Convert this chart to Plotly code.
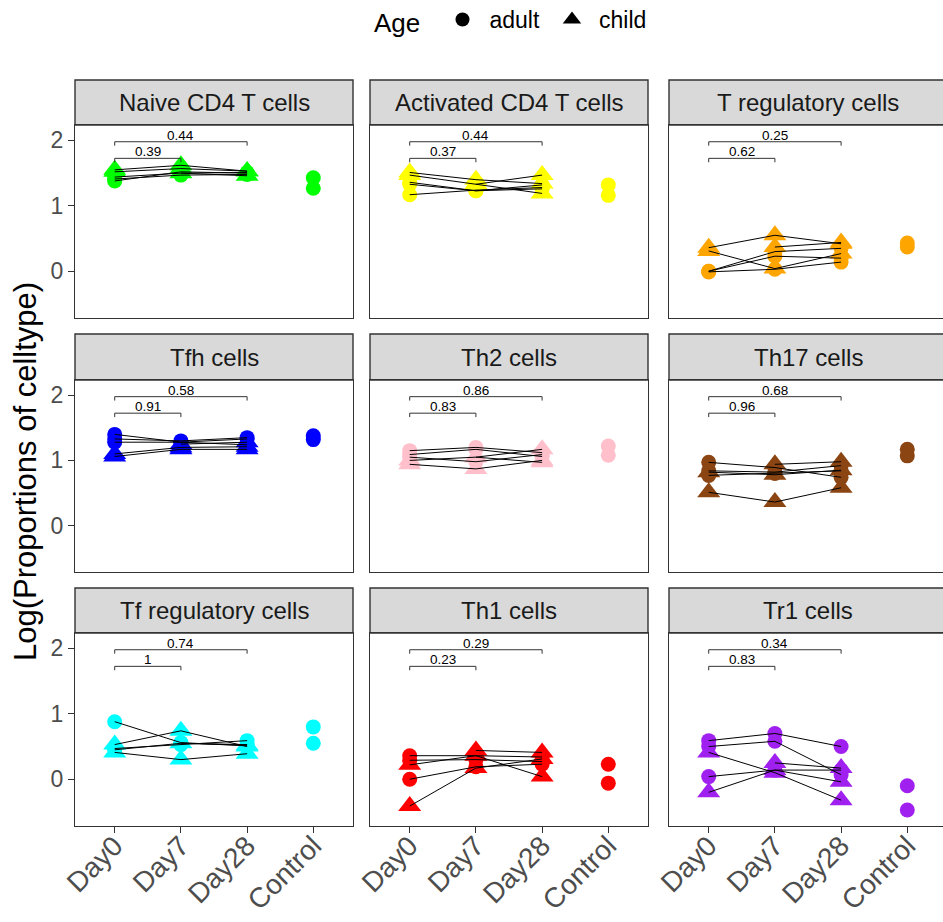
import plotly.graph_objects as go

W, H = 943, 922

days = ["Day0", "Day7", "Day28", "Control"]
cell_types = ["Naive CD4 T cells", "Activated CD4 T cells", "T regulatory cells",
              "Tfh cells", "Th2 cells", "Th17 cells",
              "Tf regulatory cells", "Th1 cells", "Tr1 cells"]
colors = ["#00FF00", "#FFFF00", "#FFA500", "#0000FF", "#FFC0CB", "#8B4513",
          "#00FFFF", "#FF0000", "#A020F0"]

subjects = ["A1", "A2", "A3", "C1", "C2", "C3"]
subject_age = ["adult", "adult", "adult", "child", "child", "child"]

# Log proportions per subject: [Day0, Day7, Day28]
naive_cd4 = [[1.44, 1.50, 1.51], [1.41, 1.47, 1.48], [1.38, 1.52, 1.50],
             [1.55, 1.62, 1.53], [1.52, 1.57, 1.53], [None, 1.50, 1.46]]
activated_cd4 = [[1.36, 1.23, 1.26], [1.17, 1.24, 1.28], [1.33, 1.23, 1.32],
                 [1.51, 1.40, 1.34], [1.47, 1.33, 1.19], [None, 1.33, 1.47]]
t_reg = [[0.00, 0.23, 0.20], [-0.01, 0.03, 0.14], [0.00, 0.30, 0.35],
         [0.36, 0.55, 0.42], [0.31, 0.04, 0.27], [None, 0.37, 0.44]]
tfh = [[1.40, 1.28, 1.33], [1.33, 1.30, 1.35], [1.28, 1.28, 1.24],
       [1.10, 1.20, 1.21], [1.06, 1.17, 1.17], [None, 1.25, 1.28]]
th2 = [[1.15, 1.20, 1.12], [1.09, 1.17, 1.06], [1.05, 0.98, 1.09],
       [1.00, 1.05, 1.17], [0.94, 0.87, 1.00], [None, 1.05, 0.97]]
th17 = [[0.97, 0.89, 0.74], [0.84, 0.82, 0.92], [0.77, 0.80, 0.84],
        [0.82, 0.78, 0.85], [0.51, 0.36, 0.58], [None, 0.94, 0.98]]
tf_reg = [[0.88, 0.56, 0.51], [0.47, 0.53, 0.59], [0.45, 0.55, 0.53],
          [0.53, 0.74, 0.50], [0.41, 0.30, 0.39], [None, 0.55, 0.52]]
th1 = [[0.36, 0.36, 0.34], [0.29, 0.30, 0.27], [0.00, 0.19, 0.23],
       [0.22, 0.36, 0.04], [-0.41, 0.17, 0.31], [None, 0.44, 0.41]]
tr1 = [[0.59, 0.70, 0.50], [0.50, 0.58, 0.07], [0.04, 0.14, 0.14],
       [0.41, 0.10, -0.32], [-0.20, 0.14, -0.04], [None, 0.25, 0.17]]
panel_values = [naive_cd4, activated_cd4, t_reg, tfh, th2, th17, tf_reg, th1, tr1]

# Control (adult) values
control_values = [[1.43, 1.27], [1.32, 1.16], [0.43, 0.37],
                  [1.38, 1.32], [1.22, 1.08], [1.17, 1.07],
                  [0.80, 0.55], [0.23, -0.06], [-0.10, -0.47]]

p_day7 = ["0.39", "0.37", "0.62", "0.91", "0.83", "0.96", "1", "0.23", "0.83"]
p_day28 = ["0.44", "0.44", "0.25", "0.58", "0.86", "0.68", "0.74", "0.29", "0.34"]

y_ticks = [0, 1, 2]

# ---------------- layout geometry (pixels) ----------------
col_px = [(75, 353), (370, 648), (669, 947)]
plot_rows_px = [(125, 318), (380, 572), (633, 826)]
strip_rows_px = [(80, 125), (334, 380), (588, 633)]
YRANGE = [-0.715, 2.236]
FONT = "Liberation Sans, Arial, Helvetica, sans-serif"
AX = "#333333"
TXT = "#4D4D4D"


def xp(px):
    return px / W


def yp(py):
    return 1 - py / H


fig = go.Figure()
layout = {}
shapes = []
annotations = []

for i, ct in enumerate(cell_types):
    r, c = divmod(i, 3)
    n = i + 1
    xa = "x" if n == 1 else f"x{n}"
    ya = "y" if n == 1 else f"y{n}"
    x0, x1 = col_px[c]
    y0, y1 = plot_rows_px[r]
    vis_x1 = min(x1, W)
    full_w = x1 - x0
    vis_w = vis_x1 - x0
    xr = [-0.6, -0.6 + 4.2 * vis_w / full_w]

    layout["xaxis" if n == 1 else f"xaxis{n}"] = dict(
        domain=[xp(x0), xp(vis_x1)], anchor=ya, type="category",
        categoryorder="array", categoryarray=days, range=xr,
        automargin=False, fixedrange=True,
        showline=True, linecolor=AX, linewidth=1.4, mirror=True,
        showgrid=False, zeroline=False,
        ticks="outside" if r == 2 else "", ticklen=6, tickwidth=1.4, tickcolor=AX,
        showticklabels=(r == 2), tickangle=-45, ticklabelstandoff=-15,
        tickfont=dict(family=FONT, size=28, color=TXT),
    )
    layout["yaxis" if n == 1 else f"yaxis{n}"] = dict(
        domain=[yp(y1), yp(y0)], anchor=xa, range=YRANGE,
        automargin=False, fixedrange=True,
        showline=True, linecolor=AX, linewidth=1.4, mirror=(c != 2),
        showgrid=False, zeroline=False,
        tickvals=y_ticks, ticktext=[str(t) for t in y_ticks],
        ticks="outside" if c == 0 else "", ticklen=6, tickwidth=1.4, tickcolor=AX,
        showticklabels=(c == 0),
        tickfont=dict(family=FONT, size=23, color=TXT),
    )

    # strip
    sy0, sy1 = strip_rows_px[r]
    shapes.append(dict(type="rect", xref="paper", yref="paper",
                       x0=xp(x0), x1=xp(x1), y0=yp(sy1), y1=yp(sy0),
                       fillcolor="#D9D9D9", line=dict(color=AX, width=1.4),
                       layer="below"))
    annotations.append(dict(text=ct, xref="paper", yref="paper",
                            x=xp((x0 + x1) / 2), y=yp((sy0 + sy1) / 2),
                            xanchor="center", yanchor="middle", showarrow=False,
                            font=dict(family=FONT, size=24, color="#1A1A1A")))

    col = colors[i]
    vals = panel_values[i]
    # points by age
    for age, sym, size in [("adult", "circle", 15), ("child", "triangle-up", 20)]:
        xs, ys = [], []
        for s, age_s in enumerate(subject_age):
            if age_s != age:
                continue
            for d in range(3):
                v = vals[s][d]
                if v is not None:
                    xs.append(days[d])
                    ys.append(v)
        if age == "adult":
            for v in control_values[i]:
                xs.append("Control")
                ys.append(v)
        fig.add_trace(go.Scatter(x=xs, y=ys, mode="markers", xaxis=xa, yaxis=ya,
                                 marker=dict(symbol=sym, size=size, color=col,
                                             line=dict(width=0)),
                                 showlegend=False, hoverinfo="skip"))
    # paired lines
    for s in range(len(subjects)):
        fig.add_trace(go.Scatter(x=days[:3], y=vals[s], mode="lines",
                                 xaxis=xa, yaxis=ya, connectgaps=True,
                                 line=dict(color="black", width=1),
                                 showlegend=False, hoverinfo="skip"))
    # comparison brackets
    for (xa_end, yb, ptxt, xmid, ylab) in [("Day7", 1.726, p_day7[i], 0.5, 1.83),
                                           ("Day28", 1.98, p_day28[i], 1.0, 2.08)]:
        fig.add_trace(go.Scatter(x=["Day0", "Day0", xa_end, xa_end],
                                 y=[yb - 0.06, yb, yb, yb - 0.06], mode="lines",
                                 xaxis=xa, yaxis=ya,
                                 line=dict(color="#333333", width=1),
                                 showlegend=False, hoverinfo="skip"))
        annotations.append(dict(text=ptxt, xref=xa, yref=ya, x=xmid, y=ylab,
                                xanchor="center", yanchor="middle", showarrow=False,
                                font=dict(family=FONT, size=13.5, color="black")))

# legend entries
fig.add_trace(go.Scatter(x=[None], y=[None], mode="markers", name="adult",
                         marker=dict(symbol="circle", size=14, color="black")))
fig.add_trace(go.Scatter(x=[None], y=[None], mode="markers", name="child",
                         marker=dict(symbol="triangle-up", size=16, color="black")))

annotations.append(dict(text="Log(Proportions of celltype)", xref="paper", yref="paper",
                        x=xp(25), y=yp(472), textangle=-90, showarrow=False,
                        xanchor="center", yanchor="middle",
                        font=dict(family=FONT, size=31, color="black")))

fig.update_layout(
    **layout,
    template="none",
    width=W, height=H,
    margin=dict(l=0, r=0, t=0, b=0, autoexpand=False),
    paper_bgcolor="white", plot_bgcolor="white",
    shapes=shapes, annotations=annotations,
    showlegend=True,
    legend=dict(orientation="h", x=xp(372), xanchor="left", y=yp(-2), yanchor="top",
                title=dict(text="Age ", font=dict(family=FONT, size=26, color="black")),
                font=dict(family=FONT, size=23, color="black"),
                itemwidth=44, itemsizing="trace", bgcolor="rgba(0,0,0,0)"),
)

fig.write_html("out.html")
